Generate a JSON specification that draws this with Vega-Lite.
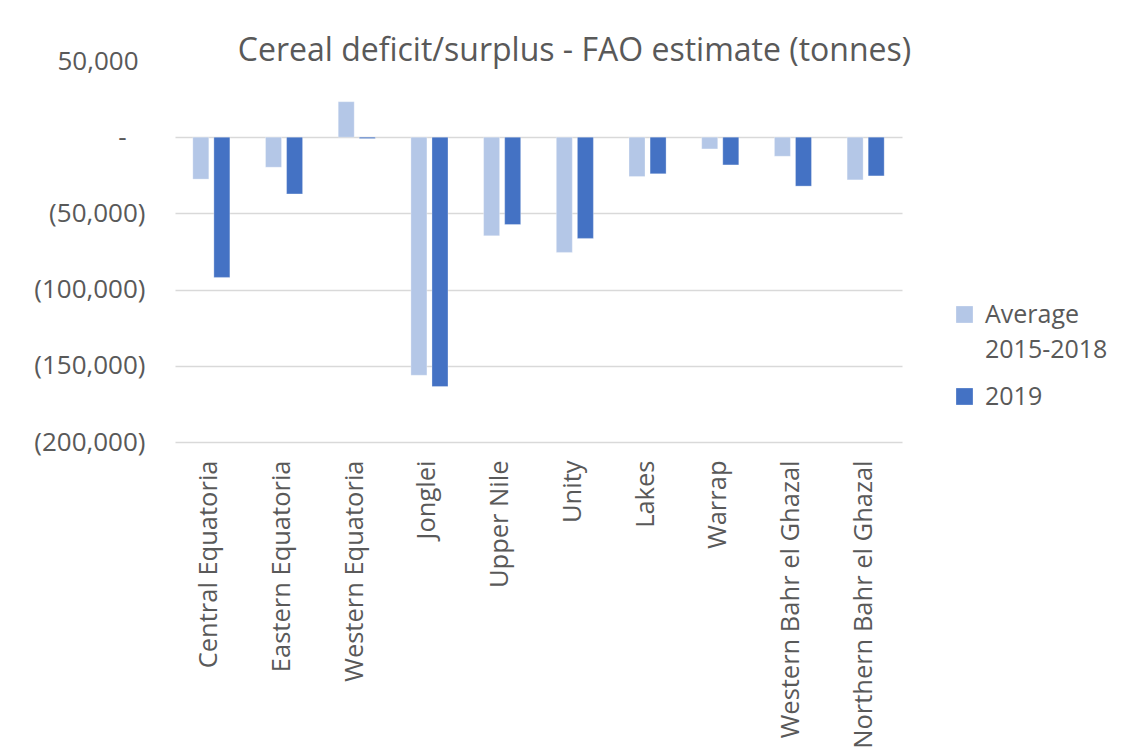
{
  "$schema": "https://vega.github.io/schema/vega-lite/v6.json",
  "autosize": "none",
  "width": 727,
  "height": 381,
  "padding": {"left": 175, "top": 61, "right": 225, "bottom": 306},
  "background": "white",
  "title": {
    "text": "Cereal deficit/surplus - FAO estimate (tonnes)",
    "anchor": "middle",
    "frame": "group",
    "baseline": "alphabetic",
    "offset": 0,
    "dx": 36,
    "dy": 45,
    "font": "Open Sans",
    "fontSize": 32,
    "fontWeight": "normal",
    "color": "#595959"
  },
  "data": {
    "values": [
      {"region": "Central Equatoria", "series": "Average 2015-2018", "value": -27500},
      {"region": "Central Equatoria", "series": "2019", "value": -92000},
      {"region": "Eastern Equatoria", "series": "Average 2015-2018", "value": -19700},
      {"region": "Eastern Equatoria", "series": "2019", "value": -37200},
      {"region": "Western Equatoria", "series": "Average 2015-2018", "value": 23300},
      {"region": "Western Equatoria", "series": "2019", "value": -900},
      {"region": "Jonglei", "series": "Average 2015-2018", "value": -156200},
      {"region": "Jonglei", "series": "2019", "value": -163600},
      {"region": "Upper Nile", "series": "Average 2015-2018", "value": -64700},
      {"region": "Upper Nile", "series": "2019", "value": -57300},
      {"region": "Unity", "series": "Average 2015-2018", "value": -75600},
      {"region": "Unity", "series": "2019", "value": -66400},
      {"region": "Lakes", "series": "Average 2015-2018", "value": -25800},
      {"region": "Lakes", "series": "2019", "value": -24000},
      {"region": "Warrap", "series": "Average 2015-2018", "value": -7700},
      {"region": "Warrap", "series": "2019", "value": -18200},
      {"region": "Western Bahr el Ghazal", "series": "Average 2015-2018", "value": -12500},
      {"region": "Western Bahr el Ghazal", "series": "2019", "value": -32100},
      {"region": "Northern Bahr el Ghazal", "series": "Average 2015-2018", "value": -28000},
      {"region": "Northern Bahr el Ghazal", "series": "2019", "value": -25400}
    ]
  },
  "mark": {"type": "bar", "stroke": "#ffffff", "strokeWidth": 0.5, "strokeOpacity": 0.6},
  "encoding": {
    "x": {
      "field": "region",
      "type": "nominal",
      "sort": null,
      "scale": {"paddingInner": 0.49, "paddingOuter": 0.245},
      "axis": {
        "title": null,
        "labelAngle": -90,
        "labelAlign": "right",
        "labelBaseline": "middle",
        "labelOffset": -2,
        "labelPadding": 18,
        "labelFont": "Open Sans",
        "labelFontSize": 25.5,
        "labelColor": "#595959",
        "labelLimit": 400,
        "ticks": false,
        "domain": false
      }
    },
    "xOffset": {
      "field": "series",
      "type": "nominal",
      "sort": ["Average 2015-2018", "2019"],
      "scale": {"paddingInner": 0.24, "paddingOuter": 0}
    },
    "y": {
      "field": "value",
      "type": "quantitative",
      "scale": {"domain": [-200000, 50000], "nice": false, "zero": true},
      "axis": {
        "title": null,
        "values": [50000, 0, -50000, -100000, -150000, -200000],
        "labelExpr": "datum.value == 0 ? '-' : (datum.value < 0 ? '(' + format(-datum.value, ',') + ')' : format(datum.value, ','))",
        "labelFont": "Open Sans",
        "labelFontSize": 26,
        "labelColor": "#595959",
        "labelPadding": {"condition": [{"test": "datum.value > 0", "value": 37}, {"test": "datum.value == 0", "value": 49}], "value": 30},
        "ticks": false,
        "domain": false,
        "grid": true,
        "gridColor": "#d9d9d9",
        "gridWidth": 1.5,
        "gridOpacity": {"condition": {"test": "datum.value == 50000", "value": 0}, "value": 1}
      }
    },
    "color": {
      "field": "series",
      "type": "nominal",
      "sort": ["Average 2015-2018", "2019"],
      "scale": {"domain": ["Average 2015-2018", "2019"], "range": ["#b4c7e7", "#4472c4"]},
      "legend": {
        "title": null,
        "orient": "none",
        "legendX": 777,
        "legendY": 241,
        "padding": 0,
        "symbolType": "square",
        "symbolSize": 280,
        "symbolStrokeWidth": 0,
        "labelFont": "Open Sans",
        "labelFontSize": 25,
        "labelColor": "#595959",
        "labelOffset": 8,
        "rowPadding": 21,
        "labelExpr": "datum.label == 'Average 2015-2018' ? ['Average', '2015-2018'] : datum.label"
      }
    }
  },
  "config": {
    "view": {"stroke": null},
    "style": {"guide-label": {"lineHeight": 35}}
  }
}
